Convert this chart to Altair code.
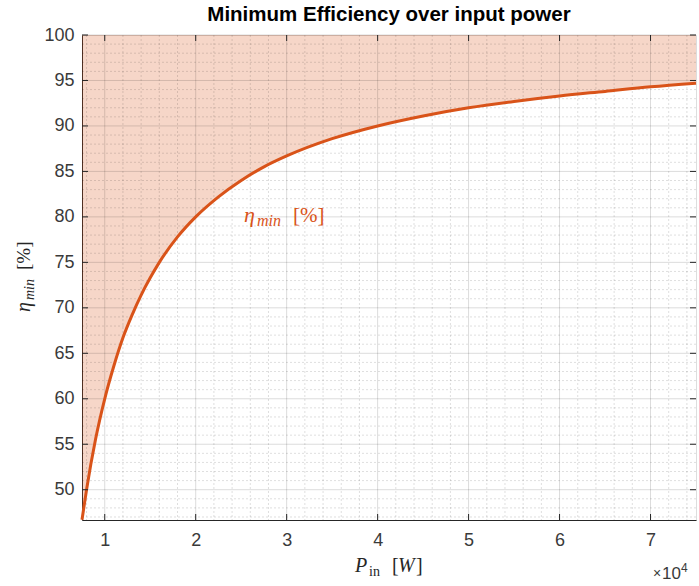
import altair as alt
import pandas as pd

# Data
p_in = [7500, 8000, 9000, 10000, 11000, 12000, 13000, 14000, 15000, 16000, 18000,
        20000, 22500, 25000, 27500, 30000, 35000, 40000, 45000, 50000, 55000,
        60000, 65000, 70000, 75000]
eta_min = [46.7, 50.0, 55.6, 60.0, 63.6, 66.7, 69.2, 71.4, 73.3, 75.0, 77.8,
           80.0, 82.2, 84.0, 85.5, 86.7, 88.6, 90.0, 91.1, 92.0, 92.7,
           93.3, 93.8, 94.3, 94.7]
x_major = [10000, 20000, 30000, 40000, 50000, 60000, 70000]
y_major = [50, 55, 60, 65, 70, 75, 80, 85, 90, 95, 100]
x_minor = [v for v in range(8000, 75000, 2000) if v % 10000 != 0]
y_minor = [v for v in range(47, 100) if v % 5 != 0]
label_x = 25300
label_y = 79.45

W, H = 614, 485
X_DOM = [7500, 75000]
Y_DOM = [46.67, 100]
ORANGE = "#d95319"
AX = "#262626"
LBL = "#3a3a3a"
SERIF = "Liberation Serif"
SANS = "Liberation Sans"

df = pd.DataFrame({"p": p_in, "eta": eta_min, "top": [100] * len(p_in)})
xs = alt.Scale(domain=X_DOM, nice=False, zero=False)
ys = alt.Scale(domain=Y_DOM, nice=False, zero=False)

xaxis = alt.Axis(values=x_major, labelExpr="datum.value/10000", grid=False, ticks=False,
                 domainColor=AX, domainWidth=1, labelFont=SANS, labelFontSize=18,
                 labelColor=LBL, labelPadding=11, title="")
yaxis = alt.Axis(values=y_major, grid=False, ticks=False, domainColor=AX, domainWidth=1,
                 labelFont=SANS, labelFontSize=18, labelColor=LBL, labelPadding=8,
                 title="")

area = alt.Chart(df).mark_area(color=ORANGE, opacity=0.24, interpolate="monotone").encode(
    x=alt.X("p:Q", scale=xs, axis=xaxis),
    y=alt.Y("eta:Q", scale=ys, axis=yaxis),
    y2="top:Q",
)

gx_minor = alt.Chart(pd.DataFrame({"v": x_minor})).mark_rule(
    color="#000000", opacity=0.13, strokeWidth=1, strokeDash=[2, 2]).encode(
    x=alt.X("v:Q", scale=xs))
gy_minor = alt.Chart(pd.DataFrame({"v": y_minor})).mark_rule(
    color="#000000", opacity=0.13, strokeWidth=1, strokeDash=[2, 2]).encode(
    y=alt.Y("v:Q", scale=ys))
gx_major = alt.Chart(pd.DataFrame({"v": x_major})).mark_rule(
    color="#000000", opacity=0.14, strokeWidth=1).encode(x=alt.X("v:Q", scale=xs))
gy_major = alt.Chart(pd.DataFrame({"v": y_major})).mark_rule(
    color="#000000", opacity=0.14, strokeWidth=1).encode(y=alt.Y("v:Q", scale=ys))

line = alt.Chart(df).mark_line(color=ORANGE, strokeWidth=3, interpolate="monotone").encode(
    x=alt.X("p:Q", scale=xs), y=alt.Y("eta:Q", scale=ys))

tx = pd.DataFrame({"v": x_major})
ty = pd.DataFrame({"v": y_major})
tick_b = alt.Chart(tx).mark_rule(color=AX).encode(x=alt.X("v:Q", scale=xs), y=alt.value(H), y2=alt.value(H - 6))
tick_t = alt.Chart(tx).mark_rule(color=AX).encode(x=alt.X("v:Q", scale=xs), y=alt.value(0), y2=alt.value(6))
tick_l = alt.Chart(ty).mark_rule(color=AX).encode(y=alt.Y("v:Q", scale=ys), x=alt.value(0), x2=alt.value(6))
tick_r = alt.Chart(ty).mark_rule(color=AX).encode(y=alt.Y("v:Q", scale=ys), x=alt.value(W), x2=alt.value(W - 6))


def piece(text, size, style, dx, dy, color, x=None, y=None, px=None, py=None, angle=0):
    mk = dict(align="left", baseline="alphabetic", font=SERIF, fontSize=size,
              fontStyle=style, color=color, dx=dx, dy=dy, text=text)
    if angle:
        mk["angle"] = angle
    if px is not None:
        return alt.Chart(pd.DataFrame({"a": [0]})).mark_text(**mk).encode(
            x=alt.value(px), y=alt.value(py))
    return alt.Chart(pd.DataFrame({"x": [x], "y": [y]})).mark_text(**mk).encode(
        x=alt.X("x:Q", scale=xs), y=alt.Y("y:Q", scale=ys))


# in-plot label  eta_min [%]
ann = [
    piece("\u03b7", 22, "italic", 0, 0, ORANGE, x=label_x, y=label_y),
    piece("min", 16, "italic", 13, 4, ORANGE, x=label_x, y=label_y),
    piece("[%]", 21, "normal", 49, 0, ORANGE, x=label_x, y=label_y),
]
# x axis title  P_in [W]
xt = [
    piece("P", 20, "italic", 0, 0, AX, px=273, py=537),
    piece("in", 14, "normal", 14, 4, AX, px=273, py=537),
    piece("[", 20, "normal", 37, 0, AX, px=273, py=537),
    piece("W", 20, "italic", 43, 0, AX, px=273, py=537),
    piece("]", 20, "normal", 61, 0, AX, px=273, py=537),
]
# y axis title  eta_min [%] (rotated)
yt = [
    piece("\u03b7", 20, "italic", 0, 0, AX, px=-52, py=277, angle=270),
    piece("min", 14, "italic", 12, 4, AX, px=-52, py=277, angle=270),
    piece("[%]", 19, "normal", 42, 0, AX, px=-52, py=277, angle=270),
]


def sans_piece(text, size, px, py):
    return alt.Chart(pd.DataFrame({"a": [0]})).mark_text(
        align="left", baseline="alphabetic", font=SANS, fontSize=size, color=LBL,
        text=text).encode(x=alt.value(px), y=alt.value(py))


exp = [sans_piece("\u00d7", 14, 571, 543), sans_piece("10", 17, 580, 544),
       sans_piece("4", 12, 599, 537)]

chart = alt.layer(area, gx_minor, gy_minor, gx_major, gy_major, line,
                  tick_b, tick_t, tick_l, tick_r, *ann, *xt, *yt, *exp).properties(
    width=W, height=H,
    title=alt.TitleParams("Minimum Efficiency over input power", font=SANS,
                          fontSize=20.5, fontWeight="bold", color="#000000", anchor="middle",
                          offset=1),
    autosize=alt.AutoSizeParams(type="none"),
    padding={"left": 82, "top": 35, "right": 3, "bottom": 66},
).configure_view(stroke=AX, strokeWidth=1).configure(background="white")

chart.save("out.html", embed_options={"renderer": "svg", "actions": False})
